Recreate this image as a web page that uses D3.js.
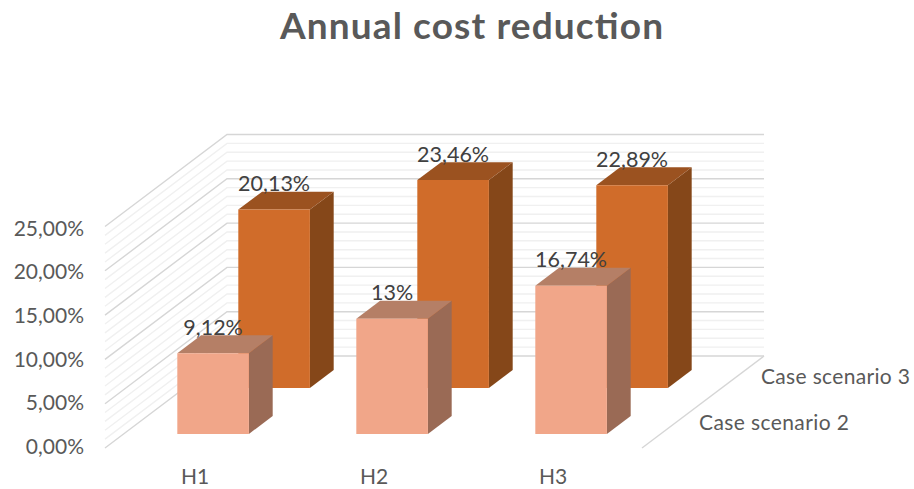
<!DOCTYPE html>
<html><head><meta charset="utf-8">
<script src="https://cdn.jsdelivr.net/npm/d3@7/dist/d3.min.js"></script>
<style>html,body{margin:0;padding:0;background:#fff}svg{display:block}text{font-family:Lato,"Open Sans",sans-serif}</style>
</head><body><svg id="c" width="914" height="489"></svg>
<script>
const categories = ["H1","H2","H3"];
const seriesNames = ["Case scenario 2","Case scenario 3"];
const scenario2 = [9.12,13,16.74];
const scenario3 = [20.13,23.46,22.89];
const scenario2Labels = ["9,12%","13%","16,74%"];
const scenario3Labels = ["20,13%","23,46%","22,89%"];
const majorTicks = [0,5,10,15,20,25];
const minorTicks = d3.range(0,25,1).filter(v=>v%5!==0);
const tickLabel = v => v.toFixed(2).replace(".",",")+"%";
const colors = [{front:"#f1a689",side:"#9a6a55",top:"#b57f66"},{front:"#d06c2a",side:"#854719",top:"#9b5220"}];

const svg = d3.select("#c");
const x = d3.scaleBand().domain(categories).range([105,642]).paddingInner(0.6).paddingOuter(0.3);
const yh = d3.scaleLinear().domain([0,25]).range([0,221.5]);
const yLabel = d3.scaleLinear().domain([0,25]).range([454,235.5]);
const depthBand = d3.scaleBand().domain(seriesNames).range([0,1]).paddingInner(0.61).paddingOuter(0.305);
const dx = d3.scaleLinear().domain([0,1]).range([0,122]);
const dy = d3.scaleLinear().domain([0,1]).range([448,356]);
const P = (px,t,v) => [px+dx(t), dy(t)-yh(v)];
const line = d3.line();
const xL=105,xR=642;

const grid = svg.append("g").attr("fill","none");
function gridLine(v,stroke,w){
  grid.append("path").attr("d",line([P(xL,0,v),P(xL,1,v),P(xR,1,v)])).attr("stroke",stroke).attr("stroke-width",w);
}
minorTicks.forEach(v=>gridLine(v,"#f0f0f0",1.4));
majorTicks.forEach(v=>gridLine(v,"#d6d6d6",1.4));
grid.append("path").attr("d",line([P(xR,0,0),P(xR,1,0)])).attr("stroke","#d6d6d6").attr("stroke-width",1.4);

function bars(values,labels,si){
  const name=seriesNames[si], t0=depthBand(name), t1=t0+depthBand.bandwidth(), c=colors[si];
  const g=svg.append("g");
  categories.forEach((cat,i)=>{
    const a=x(cat), b=a+x.bandwidth(), v=values[i];
    g.append("path").attr("fill",c.side).attr("d",line([P(b,t0,0),P(b,t1,0),P(b,t1,v),P(b,t0,v)])+"Z");
    g.append("path").attr("fill",c.top).attr("d",line([P(a,t0,v),P(b,t0,v),P(b,t1,v),P(a,t1,v)])+"Z");
    g.append("path").attr("fill",c.front).attr("d",line([P(a,t0,0),P(b,t0,0),P(b,t0,v),P(a,t0,v)])+"Z");
    const p=P((a+b)/2,t0,v);
    g.append("text").attr("x",p[0]).attr("y",p[1]-18.5).attr("text-anchor","middle").attr("font-size",21.5).attr("fill","#404040").text(labels[i]);
  });
}
bars(scenario3,scenario3Labels,1);
bars(scenario2,scenario2Labels,0);

const txt="#595959";
majorTicks.forEach(v=>{
  svg.append("text").attr("x",84).attr("y",yLabel(v)).attr("text-anchor","end").attr("font-size",21).attr("fill",txt).text(tickLabel(v));
});
categories.forEach(c=>{
  svg.append("text").attr("x",x(c)+x.bandwidth()/2+0.5).attr("y",484).attr("text-anchor","middle").attr("font-size",21).attr("fill",txt).text(c);
});
[[699,430],[761,384]].forEach((p,i)=>{
  svg.append("text").attr("x",p[0]).attr("y",p[1]).attr("font-size",21).attr("fill",txt).attr("textLength",i?149:150).text(seriesNames[i]);
});
svg.append("text").attr("x",280).attr("y",39).attr("font-size",37).attr("font-weight",700).attr("fill","#595959").attr("textLength",383).text("Annual cost reduction");
</script></body></html>
